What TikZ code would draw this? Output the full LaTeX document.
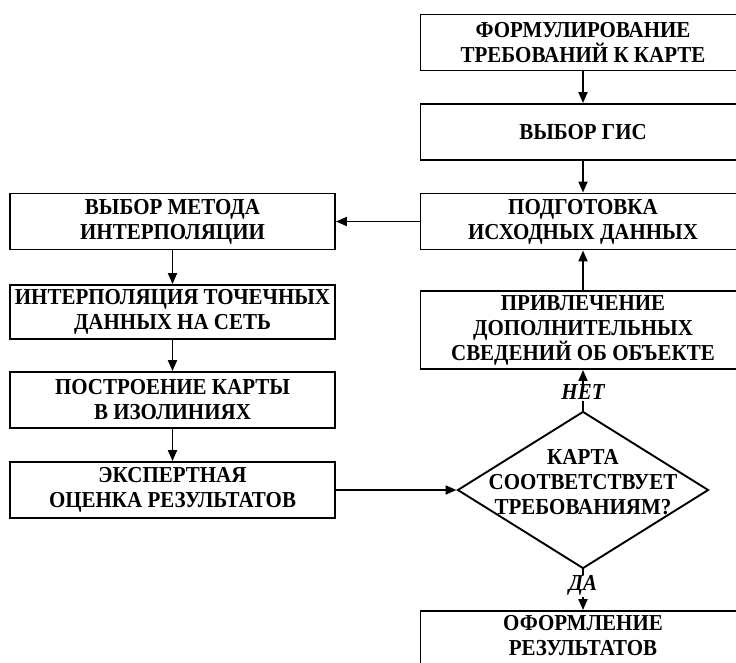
\documentclass[tikz,border=0pt]{standalone}
\usepackage{fontspec}
\setmainfont{Liberation Serif}[FakeStretch=0.92]
\usetikzlibrary{shapes.geometric,arrows.meta}

\begin{document}
\begin{tikzpicture}[x=1pt,y=-1pt,line width=1.9pt,
    every node/.style={font=\bfseries\fontsize{22.8}{25}\selectfont,align=center},
    blk/.style={draw,inner sep=0pt,minimum width=325pt,minimum height=56pt},
    ans/.style={fill=white,inner sep=1pt,font=\bfseries\itshape\fontsize{22.8}{25}\selectfont},
    >={Triangle[length=11pt,width=9pt]}]
  \useasboundingbox (0,0) rectangle (736,662);
  \clip (0,0) rectangle (736,662);
  % right column
  \node[blk] (req) at (583,42.5) {ФОРМУЛИРОВАНИЕ\\ТРЕБОВАНИЙ К КАРТЕ};
  \node[blk] (gis) at (583,132) {ВЫБОР ГИС};
  \node[blk] (prep) at (583,221.5) {ПОДГОТОВКА\\ИСХОДНЫХ ДАННЫХ};
  \node[blk,minimum height=78pt] (extra) at (583,330) {ПРИВЛЕЧЕНИЕ\\ДОПОЛНИТЕЛЬНЫХ\\СВЕДЕНИЙ ОБ ОБЪЕКТЕ};
  \node[draw,diamond,inner sep=0pt,minimum width=251pt,minimum height=157pt,
    label={[yshift=8pt]center:КАРТА\\СООТВЕТСТВУЕТ\\ТРЕБОВАНИЯМ?}] (chk) at (583,490) {};
  \node[blk,label={[anchor=north,inner sep=0pt,yshift=-4pt]north:ОФОРМЛЕНИЕ\\РЕЗУЛЬТАТОВ}] (final) at (583,639) {};
  % left column
  \node[blk] (meth) at (172.5,221.5) {ВЫБОР МЕТОДА\\ИНТЕРПОЛЯЦИИ};
  \node[blk,minimum height=54pt] (interp) at (172.5,312) {ИНТЕРПОЛЯЦИЯ ТОЧЕЧНЫХ\\ДАННЫХ НА СЕТЬ};
  \node[blk] (iso) at (172.5,400) {ПОСТРОЕНИЕ КАРТЫ\\В ИЗОЛИНИЯХ};
  \node[blk] (expert) at (172.5,490) {ЭКСПЕРТНАЯ\\ОЦЕНКА РЕЗУЛЬТАТОВ};

  \draw[->] (req) -- (gis);
  \draw[->] (gis) -- (prep);
  \draw[->] (prep) -- (meth);
  \draw[->] (meth) -- (interp);
  \draw[->] (interp) -- (iso);
  \draw[->] (iso) -- (expert);
  \draw[->] (expert) -- (chk);
  \draw[->] (chk) -- node[ans,pos=.45] {НЕТ} (extra);
  \draw[->] (extra) -- (prep);
  \draw[->] (chk) -- node[ans,pos=.4] {ДА} (final);
\end{tikzpicture}
\end{document}
